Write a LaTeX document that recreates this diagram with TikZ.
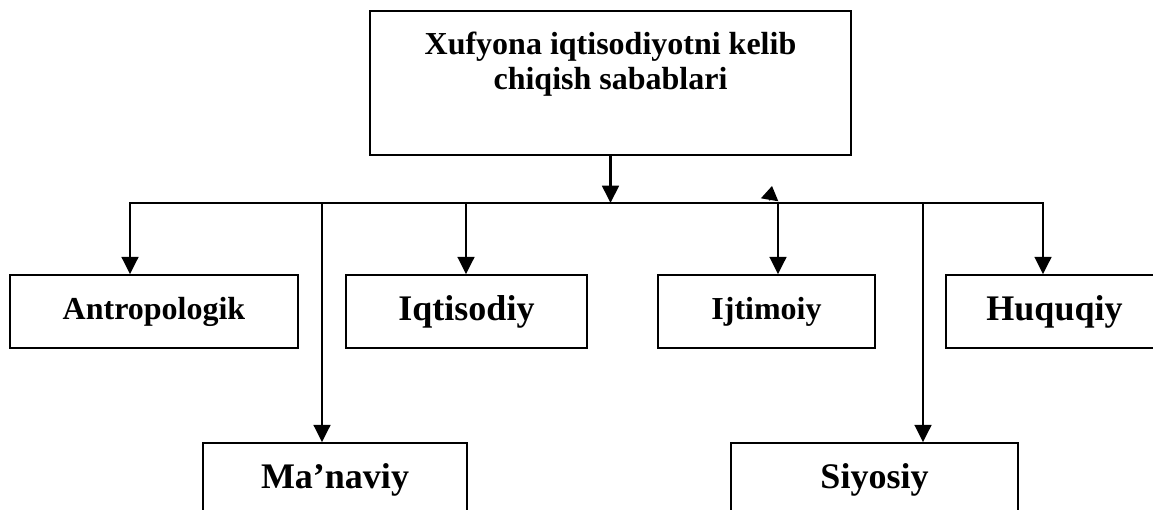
\documentclass[tikz,border=0pt]{standalone}
\usepackage{fontspec}
\setmainfont{Liberation Serif}
\usetikzlibrary{arrows.meta}
\tikzset{
  box/.style={draw, line width=1.2pt, inner sep=0pt, minimum height=54.75pt,
    font=\bfseries\fontsize{24}{28}\selectfont},
  bigbox/.style={box, font=\bfseries\fontsize{27}{32}\selectfont},
  arr/.style={line width=2pt, -{Triangle[length=13pt,width=12.5pt]}},
}

\begin{document}
\begin{tikzpicture}[x=0.75pt,y=-0.75pt]
  \useasboundingbox (0,0) rectangle (1153,510);
  \clip (0,0) rectangle (1153,510);

  % Define nodes
  \node[box, minimum width=360.75pt, minimum height=108pt, align=center,
    text depth=33pt, font=\bfseries\fontsize{24}{26.25}\selectfont]
    (cause) at (610.5,83) {Xufyona iqtisodiyotni kelib\\chiqish sabablari};

  \node[box, minimum width=216pt] (antro) at (154,311.5) {Antropologik};
  \node[bigbox, minimum width=180.75pt] (iqt) at (466.5,311.5) {Iqtisodiy};
  \node[box, minimum width=162.75pt] (ijt) at (766.5,311.5) {Ijtimoiy};
  \node[bigbox, minimum width=162.75pt] (huq) at (1054.5,311.5) {Huquqiy};

  \node[bigbox, minimum width=198pt] (man) at (335,479.5) {Ma’naviy};
  \node[bigbox, minimum width=215.25pt] (siy) at (874.5,479.5) {Siyosiy};

  % Bus points
  \coordinate (bus_a) at (130,203);
  \coordinate (bus_m) at (322,203);
  \coordinate (bus_i) at (466,203);
  \coordinate (bus_c) at (610.5,203);
  \coordinate (bus_j) at (778,203);
  \coordinate (bus_s) at (923,203);
  \coordinate (bus_h) at (1043,203);
  \coordinate (stray) at (769.5,200.5);
  \coordinate (stray_tip) at (772,186);

  % Connect nodes
  \draw[line width=1.2pt, line cap=rect] (bus_a) -- (bus_h);
  \draw[arr] (cause.south) -- (bus_c);
  \foreach \b/\n in {bus_a/antro, bus_m/man, bus_i/iqt, bus_j/ijt, bus_s/siy, bus_h/huq}
    \draw[arr] (\b) -- (\b |- \n.north);

  \draw[line width=1pt, -{Triangle[length=10.5pt,width=13pt]}] (stray) -- (stray_tip);

\end{tikzpicture}
\end{document}
